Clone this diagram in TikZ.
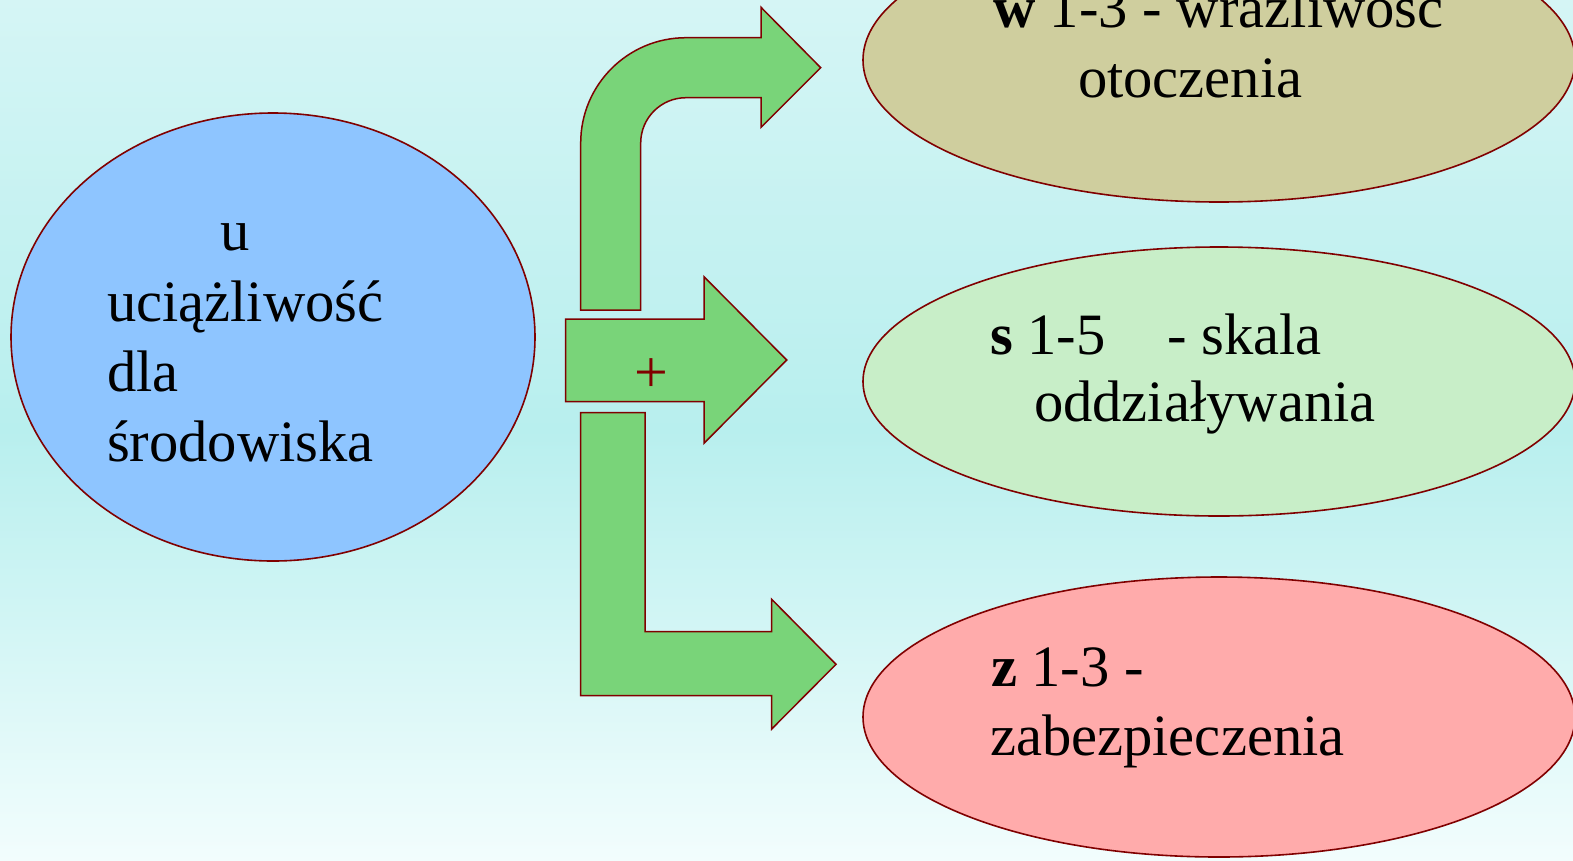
\documentclass[tikz,border=0pt]{standalone}
\usepackage{fontspec}
\setmainfont{Liberation Serif}
\usetikzlibrary{shapes.geometric}
\definecolor{bgtop}{RGB}{213,245,245}
\definecolor{bgmid}{RGB}{184,239,238}
\definecolor{bgbot}{RGB}{242,253,253}
\definecolor{outl}{RGB}{128,0,0}
\definecolor{ublue}{RGB}{142,197,255}
\definecolor{wkhaki}{RGB}{207,206,158}
\definecolor{sgreen}{RGB}{200,238,200}
\definecolor{zpink}{RGB}{255,171,171}
\definecolor{agreen}{RGB}{121,212,121}
\begin{document}
\begin{tikzpicture}[x=1pt,y=-1pt,
  oval/.style={ellipse, draw=outl, line width=1.6pt, inner sep=0pt, outer sep=0pt},
  blockarrow/.style={fill=agreen, draw=outl, line width=1.5pt, line join=miter},
  txt/.style={anchor=base west, inner sep=0pt, outer sep=0pt, font=\fontsize{58.6}{70}\selectfont}]
\useasboundingbox (0,0) rectangle (1573,860);
\clip (0,0) rectangle (1573,860);
\shade[top color=bgtop, bottom color=bgbot, middle color=bgmid] (0,0) rectangle (1573,860);

% ellipses
\node[oval, fill=ublue, minimum width=524pt, minimum height=448pt] (u) at (273,337) {};
\node[oval, fill=wkhaki, minimum width=712pt, minimum height=284pt] (w) at (1219,60) {};
\node[oval, fill=sgreen, minimum width=712pt, minimum height=269pt] (s) at (1219,381.5) {};
\node[oval, fill=zpink, minimum width=712pt, minimum height=280pt] (z) at (1219,717) {};

% top bent arrow
\draw[blockarrow] (580.7,310) -- (580.7,143)
  .. controls (580.7,84.8) and (627.8,37.7) .. (686,37.7)
  -- (761,37.7) -- (761,7.3) -- (820.7,67.7) -- (761,127.3) -- (761,97.7) -- (686,97.7)
  .. controls (661,97.7) and (640.7,118) .. (640.7,143)
  -- (640.7,310) -- cycle;
% middle arrow
\draw[blockarrow] (565.7,319) -- (704,319) -- (704,276.7) -- (786.7,360) -- (704,443.3)
  -- (704,401.7) -- (565.7,401.7) -- cycle;
% bottom bent arrow
\draw[blockarrow] (580.7,412.7) -- (645,412.7) -- (645,631.7) -- (771.7,631.7) -- (771.7,599.3)
  -- (836,664.3) -- (771.7,729) -- (771.7,695.7) -- (580.7,695.7) -- cycle;

\node[inner sep=0pt, text=outl, font=\fontsize{60}{70}\selectfont] (plus) at (651.7,376) {+};

% texts in left ellipse
\node[txt] (u1) at (220,250) {u};
\node[txt] (u2) at (107,321.7) {uciążliwość};
\node[txt] (u3) at (107,391.7) {dla};
\node[txt] (u4) at (107,461) {środowiska};

% top ellipse
\node[txt] (w1) at (993,27) {\textbf{w} 1-3 - wrażliwość};
\node[txt] (w2) at (1078,97) {otoczenia};

% middle ellipse
\node[txt] (s1) at (990,354) {\textbf{s} 1-5\hspace*{47pt} - skala};
\node[txt] (s2) at (1034,421) {oddziaływania};

% bottom ellipse
\node[txt] (z1) at (991,686) {\textbf{z} 1-3 -};
\node[txt] (z2) at (990,755.5) {zabezpieczenia};
\end{tikzpicture}
\end{document}
